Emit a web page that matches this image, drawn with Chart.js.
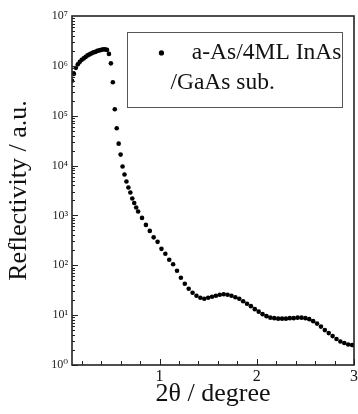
<!DOCTYPE html>
<html>
<head>
<meta charset="utf-8">
<script src="https://cdn.jsdelivr.net/npm/chart.js@4.4.1/dist/chart.umd.min.js"></script>
<style>
html,body{margin:0;padding:0;background:#fff;overflow:hidden;}
#wrap{width:358px;height:414px;}
</style>
</head>
<body>
<div id="wrap"><canvas id="c" width="358" height="414"></canvas></div>
<script>
// ---- data ----
const seriesLabel = ['a-As/4ML InAs', '/GaAs sub.'];
const angles = [
  0.10,0.12,0.14,0.16,0.18,0.20,0.22,0.24,0.26,0.28,0.30,0.32,0.34,0.36,0.38,0.40,0.42,0.44,0.46,0.48,
  0.50,0.52,0.54,0.56,0.58,0.60,0.62,0.64,0.66,0.68,0.70,0.72,0.74,0.76,0.78,0.82,0.86,0.90,0.94,0.98,
  1.02,1.06,1.10,1.14,1.18,1.22,1.26,1.30,1.34,1.38,1.42,1.46,1.50,1.54,1.58,1.62,1.66,1.70,1.74,1.78,
  1.82,1.86,1.90,1.94,1.98,2.02,2.06,2.10,2.14,2.18,2.22,2.26,2.30,2.34,2.38,2.42,2.46,2.50,2.54,2.58,
  2.62,2.66,2.70,2.74,2.78,2.82,2.86,2.90,2.94,2.98
];
const logReflectivity = [
  5.70,5.84,5.96,6.03,6.08,6.12,6.15,6.18,6.21,6.23,6.25,6.27,6.28,6.30,6.31,6.32,6.33,6.33,6.32,6.24,
  6.05,5.67,5.13,4.75,4.44,4.22,3.98,3.82,3.68,3.56,3.46,3.34,3.25,3.16,3.08,2.95,2.81,2.69,2.56,2.47,
  2.33,2.23,2.11,2.02,1.89,1.75,1.63,1.53,1.45,1.39,1.35,1.33,1.35,1.37,1.39,1.41,1.42,1.41,1.39,1.36,
  1.33,1.28,1.23,1.18,1.12,1.07,1.02,0.98,0.95,0.94,0.93,0.93,0.93,0.94,0.94,0.95,0.95,0.94,0.92,0.88,
  0.83,0.77,0.70,0.64,0.58,0.52,0.47,0.44,0.41,0.40
];
const xTickValues = [1, 2, 3];
const xTickLabels = ['1', '2', '3'];
const yTickValues = [1, 10, 100, 1000, 10000, 100000, 1000000, 10000000];
const yTickLabels = ['10\u2070','10\u00B9','10\u00B2','10\u00B3','10\u2074','10\u2075','10\u2076','10\u2077'];
const xTitle = '2\u03B8 / degree';
const yTitle = 'Reflectivity / a.u.';

const points = angles.map((a, i) => ({x: a, y: Math.pow(10, logReflectivity[i])}));

const SERIF = '"Liberation Serif", "DejaVu Serif", serif';

const framePlugin = {
  id: 'frameTicks',
  afterDraw(chart) {
    const {ctx, chartArea: ca, scales} = chart;
    const xs = scales.x, ys = scales.y;
    ctx.save();
    ctx.strokeStyle = '#222';
    ctx.lineWidth = 1;
    ctx.beginPath();
    for (let d = 0; d < 7; d++) {
      for (let k = 1; k <= 9; k++) {
        const v = k * Math.pow(10, d);
        const py = Math.round(ys.getPixelForValue(v)) + 0.5;
        const len = k === 1 ? 6 : 3;
        ctx.moveTo(ca.left, py); ctx.lineTo(ca.left + len, py);
      }
    }
    for (let i = 1; i <= 15; i++) {
      const v = i * 0.2;
      const px = Math.round(xs.getPixelForValue(v)) + 0.5;
      const len = (i % 5 === 0) ? 6 : 4;
      ctx.moveTo(px, ca.bottom); ctx.lineTo(px, ca.bottom - len);
    }
    ctx.stroke();
    ctx.lineWidth = 1.6;
    ctx.strokeRect(ca.left, ca.top, ca.right - ca.left, ca.bottom - ca.top);
    // legend box
    const lx = xs.getPixelForValue(0.67), rx = xs.getPixelForValue(2.88);
    const ty = ys.getPixelForValue(Math.pow(10, 6.68)), by = ys.getPixelForValue(Math.pow(10, 5.18));
    ctx.lineWidth = 1;
    ctx.strokeStyle = '#555';
    ctx.strokeRect(Math.round(lx) + 0.5, Math.round(ty) + 0.5, Math.round(rx - lx), Math.round(by - ty));
    ctx.fillStyle = '#000';
    ctx.beginPath();
    ctx.arc(lx + 34, ty + 21, 2.6, 0, Math.PI * 2);
    ctx.fill();
    ctx.fillStyle = '#111';
    ctx.font = '23.5px ' + SERIF;
    ctx.textBaseline = 'middle';
    ctx.textAlign = 'right';
    ctx.fillText(seriesLabel[0], rx - 1, ty + 21);
    ctx.textAlign = 'left';
    ctx.fillText(seriesLabel[1], lx + 43, ty + 51);
    ctx.restore();
  }
};

new Chart(document.getElementById('c'), {
  type: 'scatter',
  data: {
    datasets: [{
      label: seriesLabel.join(' '),
      data: points,
      showLine: false,
      pointRadius: 2.3,
      pointBackgroundColor: '#000',
      pointBorderColor: '#000',
      pointBorderWidth: 0
    }]
  },
  options: {
    responsive: false,
    animation: false,
    layout: {padding: {top: 16, right: 3, left: 0, bottom: 0}},
    plugins: {legend: {display: false}, tooltip: {enabled: false}},
    scales: {
      x: {
        type: 'linear',
        min: 0.1, max: 3,
        border: {display: false},
        grid: {display: false, drawTicks: false},
        afterBuildTicks: s => { s.ticks = xTickValues.map(v => ({value: v})); },
        ticks: {
          autoSkip: false, maxRotation: 0, padding: 2,
          color: '#111',
          font: {family: SERIF, size: 16},
          callback: (v) => { const i = xTickValues.indexOf(v); return i >= 0 ? xTickLabels[i] : null; }
        },
        title: {display: true, text: xTitle, color: '#111', font: {family: SERIF, size: 26}, padding: {top: 4, bottom: 4}},
        afterFit: s => { s.height = 49; s.paddingLeft = 0; s.paddingRight = 0; }
      },
      y: {
        type: 'logarithmic',
        min: 1, max: 1e7,
        border: {display: false},
        grid: {display: false, drawTicks: false},
        afterBuildTicks: s => { s.ticks = yTickValues.map(v => ({value: v})); },
        ticks: {
          autoSkip: false, padding: 4,
          color: '#222',
          font: {family: SERIF, size: 12},
          callback: (v) => { const i = yTickValues.indexOf(v); return i >= 0 ? yTickLabels[i] : null; }
        },
        title: {display: true, text: yTitle, color: '#111', font: {family: SERIF, size: 26}, padding: {top: 4, bottom: 4}},
        afterFit: s => { s.width = 72; s.paddingTop = 0; s.paddingBottom = 0; }
      }
    }
  },
  plugins: [framePlugin]
});
</script>
</body>
</html>
